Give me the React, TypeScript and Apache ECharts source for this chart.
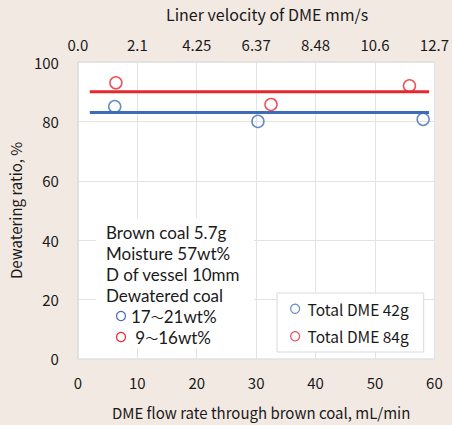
import React, { useEffect, useRef } from "react";
import * as echarts from "echarts";

const bottomTicks = [0, 10, 20, 30, 40, 50, 60];
const topLabels = ["0.0", "2.1", "4.25", "6.37", "8.48", "10.6", "12.7"];
const blueName = "Total DME 42g";
const redName = "Total DME 84g";
const bluePoints: [number, number][] = [[6.2, 85], [30.3, 80], [58.1, 80.7]];
const redPoints: [number, number][] = [[6.4, 93], [32.5, 85.7], [55.8, 92]];
const blueLine: [number, number][] = [[2, 83], [59.1, 83]];
const redLine: [number, number][] = [[2, 90], [59.1, 90]];
const noteLines = ["Brown coal 5.7g", "Moisture 57wt%", "D of vessel 10mm", "Dewatered coal"];
const noteItems: [string, string][] = [["17", "21wt%"], [" 9", "16wt%"]];

const BLUE = "#3d6cb9";
const RED = "#e8262b";
const FONT = "'Noto Sans CJK JP', 'Noto Sans', sans-serif";
const NOTE_FONT = "Lato, 'Noto Sans', sans-serif";

export default function App() {
  const ref = useRef<HTMLDivElement>(null);
  useEffect(() => {
    const chart = echarts.init(ref.current!, null, { renderer: "svg" });
    const noteGraphics: any[] = [
      {
        type: "rect",
        shape: { x: 96, y: 218, width: 158, height: 130 },
        style: { fill: "#ffffff" },
        z: 10,
      },
    ];
    noteLines.forEach((t, i) => {
      noteGraphics.push({
        type: "text",
        x: 106,
        y: 232 + i * 21,
        style: { text: t, fill: "#1a1a1a", fontSize: 17, fontFamily: NOTE_FONT, verticalAlign: "middle" },
        z: 11,
      });
    });
    [BLUE, RED].forEach((c, i) => {
      noteGraphics.push({
        type: "circle",
        shape: { cx: 121, cy: 316 + i * 21, r: 4.5 },
        style: { fill: "#ffffff", stroke: c, lineWidth: 1.2 },
        z: 12,
      });
      noteGraphics.push({
        type: "text",
        x: 131,
        y: 316 + i * 21,
        style: {
          text: `{t|${noteItems[i][0]}}{w|～}{t|${noteItems[i][1]}}`,
          verticalAlign: "middle",
          rich: {
            t: { fontSize: 17, fontFamily: NOTE_FONT, fill: "#1a1a1a", lineHeight: 20 },
            w: { fontSize: 13, fontFamily: "'Noto Sans CJK JP'", fill: "#1a1a1a", lineHeight: 20 },
          },
        },
        z: 11,
      });
    });

    chart.setOption({
      animation: false,
      backgroundColor: "#f2e9e3",
      textStyle: { fontFamily: FONT },
      grid: {
        left: 76,
        top: 62,
        width: 361,
        height: 300,
        show: true,
        backgroundColor: "#ffffff",
        borderColor: "#d6d6d6",
        borderWidth: 1,
      },
      legend: {
        data: [blueName, redName],
        orient: "vertical",
        left: 277,
        top: 293,
        padding: [8, 15, 8, 13],
        itemGap: 12,
        itemWidth: 9,
        itemHeight: 9,
        itemStyle: { borderWidth: 1.2 },
        backgroundColor: "#ffffff",
        borderColor: "#d9d9d9",
        borderWidth: 1,
        textStyle: { fontSize: 15.5, color: "#1a1a1a", fontFamily: FONT, padding: [0, 0, 0, 3] },
      },
      xAxis: [
        {
          type: "value",
          min: 0,
          max: 60,
          interval: 10,
          position: "bottom",
          name: "DME flow rate through brown coal, mL/min",
          nameLocation: "middle",
          nameGap: 46,
          nameTextStyle: { fontSize: 15, color: "#1a1a1a", padding: [0, 0, 0, 10] },
          axisLine: { show: false },
          axisTick: { show: false },
          axisLabel: { fontSize: 15, color: "#1a1a1a", margin: 16 },
          splitLine: { show: true, lineStyle: { color: "#e3e3e3" } },
        },
        {
          type: "value",
          min: 0,
          max: 60,
          interval: 10,
          position: "top",
          name: "Liner velocity of DME mm/s",
          nameLocation: "middle",
          nameGap: 40,
          nameTextStyle: { fontSize: 16, color: "#1a1a1a", padding: [0, 0, 0, 22] },
          axisLine: { show: false },
          axisTick: { show: false },
          axisLabel: {
            fontSize: 15,
            color: "#1a1a1a",
            margin: 10,
            formatter: (v: number) => topLabels[bottomTicks.indexOf(v)] ?? "",
          },
          splitLine: { show: false },
        },
      ],
      yAxis: {
        type: "value",
        min: 0,
        max: 100,
        interval: 20,
        name: "Dewatering ratio, %",
        nameLocation: "middle",
        nameGap: 52,
        nameTextStyle: { fontSize: 15, color: "#1a1a1a" },
        axisLine: { show: false },
        axisTick: { show: false },
        axisLabel: { fontSize: 15, color: "#1a1a1a", margin: 19 },
        splitLine: { show: true, lineStyle: { color: "#e3e3e3" } },
      },
      series: [
        {
          name: "blueFit",
          type: "line",
          data: blueLine,
          symbol: "none",
          lineStyle: { color: BLUE, width: 3 },
          z: 2,
        },
        {
          name: "redFit",
          type: "line",
          data: redLine,
          symbol: "none",
          lineStyle: { color: RED, width: 3 },
          z: 2,
        },
        {
          name: blueName,
          type: "scatter",
          data: bluePoints,
          symbol: "circle",
          symbolSize: 12,
          itemStyle: { color: "rgba(255,255,255,0)", borderColor: BLUE, borderWidth: 1.5 },
          z: 3,
        },
        {
          name: redName,
          type: "scatter",
          data: redPoints,
          symbol: "circle",
          symbolSize: 12,
          itemStyle: { color: "rgba(255,255,255,0)", borderColor: RED, borderWidth: 1.5 },
          z: 3,
        },
      ],
      graphic: noteGraphics,
    });
    return () => chart.dispose();
  }, []);
  return <div ref={ref} style={{ width: 452, height: 425, position: "absolute", left: 0, top: 0 }} />;
}
